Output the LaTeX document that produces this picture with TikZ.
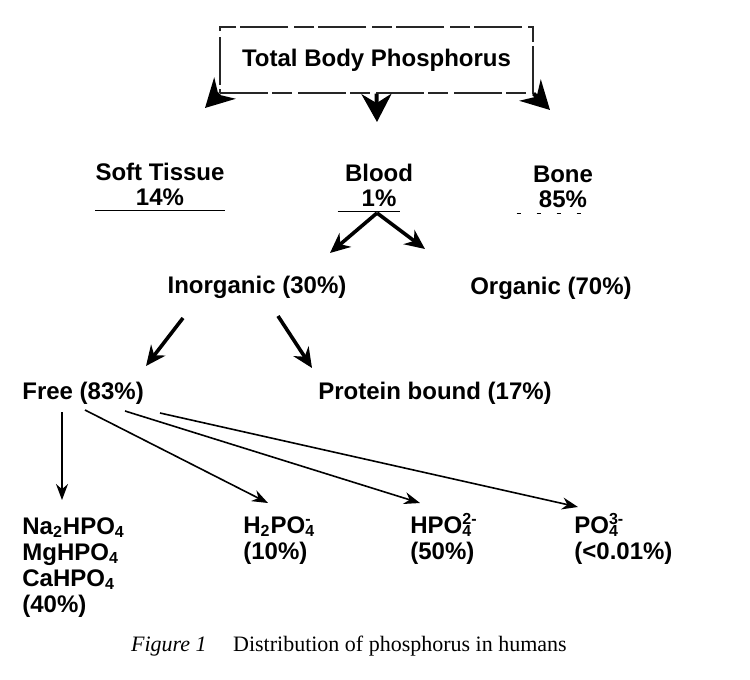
\documentclass[tikz,border=0pt]{standalone}
\usepackage{fontspec}
\setmainfont{Liberation Serif}
\setsansfont{Liberation Sans}
\usetikzlibrary{arrows.meta}
\newcommand{\chemion}[2]{\rlap{\textsubscript{#1}}\textsuperscript{#2}}

\begin{document}
\begin{tikzpicture}[x=0.5pt, y=-0.5pt,
    lbl/.style={font=\sffamily\bfseries\fontsize{12}{12.5}\selectfont, inner sep=0pt, align=center},
    chem/.style={font=\sffamily\bfseries\fontsize{12}{13}\selectfont, inner sep=0pt, align=left},
    dashbox/.style={draw=black!85, line width=0.6pt, dash pattern=on 24pt off 2pt on 10pt off 3pt},
    bigarr/.style={-{Stealth[length=14pt,width=15pt]}, line width=2pt},
    midarr/.style={-{Stealth[length=10pt,width=9pt]}, line width=1.8pt},
    thinarr/.style={-{Stealth[length=8pt,width=6pt]}, line width=0.8pt}
  ]
  \useasboundingbox (0,0) rectangle (750,680);

  \node[lbl, dashbox, minimum width=156.5pt, minimum height=33pt] (top) at (376.5,60) {Total Body Phosphorus};

  % multi-line nodes sit on the baseline of their last line
  \node[lbl, anchor=base] (soft)  at (160,205) {Soft Tissue\\14\%};
  \node[lbl, anchor=base] (blood) at (379,206) {Blood\\1\%};
  \node[lbl, anchor=base] (bone)  at (563,207) {Bone\\85\%};

  \node[lbl, anchor=base] (inorg) at (257,293) {Inorganic (30\%)};
  \node[lbl, anchor=base] (org)   at (551,294) {Organic (70\%)};

  \node[lbl, anchor=base west] (free) at (22,399)  {Free (83\%)};
  \node[lbl, anchor=base west] (prot) at (318,399) {Protein bound (17\%)};

  \node[chem, anchor=base west] (na)   at (22,612)  {Na\textsubscript{2}HPO\textsubscript{4}\\MgHPO\textsubscript{4}\\CaHPO\textsubscript{4}\\(40\%)};
  \node[chem, anchor=base west] (htwo) at (243,559) {H\textsubscript{2}PO\chemion{4}{-}\\(10\%)};
  \node[chem, anchor=base west] (hpo)  at (410,559) {HPO\chemion{4}{2-}\\(50\%)};
  \node[chem, anchor=base west] (po)   at (574,559) {PO\chemion{4}{3-}\\(<0.01\%)};

  \node[font=\fontsize{11}{13}\selectfont, inner sep=0pt, anchor=base] (cap) at (349,651)
       {\textit{Figure 1}\hspace{1.2em}Distribution of phosphorus in humans};

  % underlines below the percentages
  \draw[line width=0.7pt] ([yshift=-2.5pt]soft.south west) -- ([yshift=-2.5pt]soft.south east);
  \draw[line width=0.7pt] ([shift={(-7,5)}]blood.south west) -- ([shift={(-13,5)}]blood.south east);
  \draw[line width=0.6pt, dash pattern=on 2pt off 8pt] ([shift={(-16,6)}]bone.south west) -- ([shift={(-12,6)}]bone.south east);

  \draw[bigarr] (top.south west) -- ([shift={(45,-97)}]soft.base);
  \draw[bigarr] (top.south) -- ([shift={(-2,-84)}]blood.base);
  \draw[bigarr] (top.south east) -- ([shift={(-13,-97)}]bone.base);

  \draw[midarr] ([shift={(-2,7)}]blood.base) -- ([shift={(73,-40)}]inorg.base);
  \draw[midarr] ([shift={(-2,7)}]blood.base) -- ([shift={(-126,-45)}]org.base);

  \draw[midarr] ([shift={(-74,25)}]inorg.base) -- ([shift={(124,-33)}]free.base west);
  \draw[midarr] ([shift={(21,23)}]inorg.base) -- ([shift={(-6,-31)}]prot.base west);

  \draw[thinarr] ([shift={(40,13)}]free.base west) -- ([shift={(40,-112)}]na.base west);
  \draw[thinarr] ([shift={(63,11)}]free.base west) -- ([shift={(25,-56)}]htwo.base west);
  \draw[thinarr] ([shift={(103,12)}]free.base west) -- ([shift={(10,-56)}]hpo.base west);
  \draw[thinarr] ([shift={(138,14)}]free.base west) -- ([shift={(4,-52)}]po.base west);
\end{tikzpicture}
\end{document}
